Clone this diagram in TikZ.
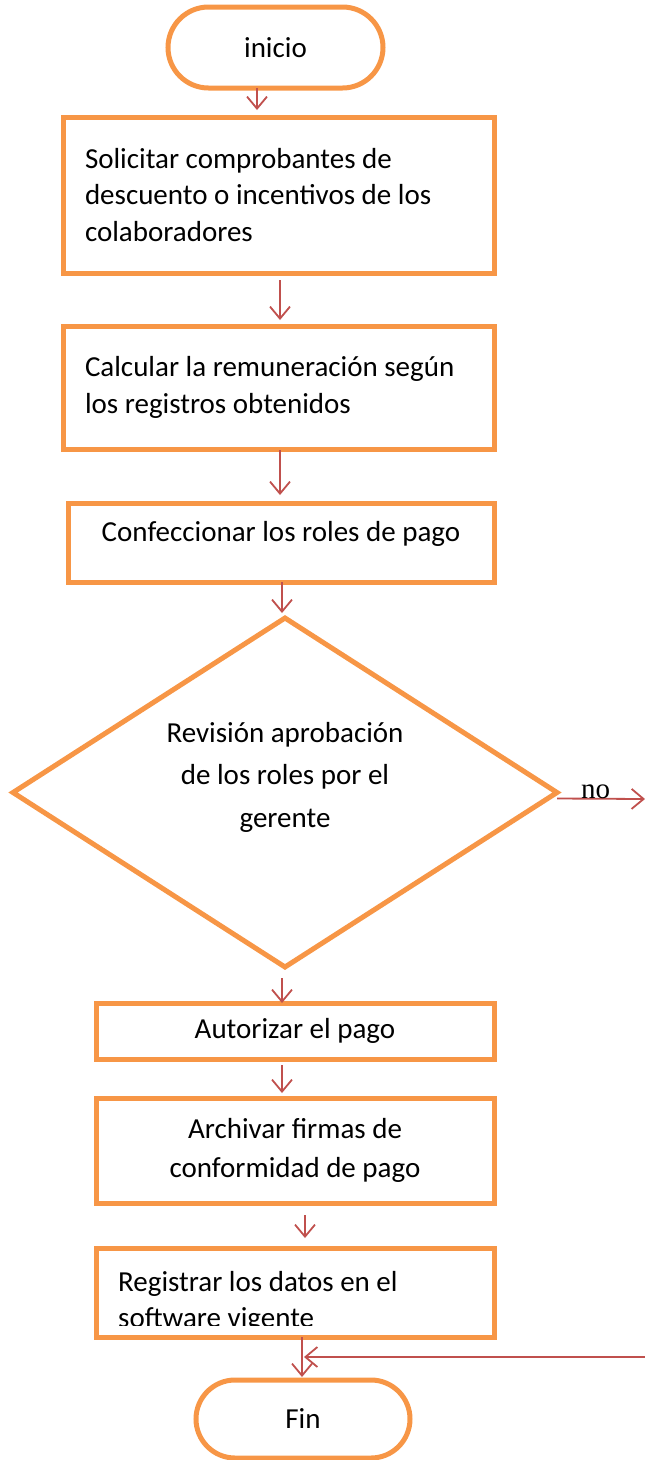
\documentclass[tikz,border=0pt]{standalone}
\usepackage{fontspec}
\setmainfont{Carlito}
\newfontfamily\serifno{Liberation Serif}
\usepackage{tikz}
\usetikzlibrary{shapes.geometric, shapes.misc, arrows.meta}
\definecolor{naranja}{HTML}{F79646}
\definecolor{rojo}{HTML}{C0504D}
\tikzset{
  caja/.style={rectangle, draw=naranja, line width=5pt, inner sep=0pt, outer sep=0pt},
  terminal/.style={rounded rectangle, draw=naranja, line width=5pt, inner sep=0pt, outer sep=0pt},
  decision/.style={diamond, draw=naranja, line width=5pt, inner sep=0pt, outer sep=0pt, aspect=1.57},
  flecha/.style={draw=rojo, line width=1.8pt, -{Straight Barb[length=12pt, width=20pt]}},
}
\begin{document}
\begin{tikzpicture}[x=1pt, y=-1pt, font=\fontsize{29}{36.5}\selectfont]
                \useasboundingbox (0, 0) rectangle (645, 1460);

                \node[terminal, minimum width=215pt, minimum height=81pt] (inicio) at (275.5, 47.5) {inicio};
                \node[caja, minimum width=431pt, minimum height=156pt, text width=387pt, align=flush left] (b1) at (278.5, 195) {Solicitar comprobantes de\\descuento o incentivos de los\\colaboradores};
                \node[caja, minimum width=431pt, minimum height=123pt, text width=387pt, align=flush left] (b2) at (278.5, 387.5) {Calcular la remuneración según\\los registros obtenidos};
                \node[caja, minimum width=426pt, minimum height=79pt, text depth=23pt] (b3) at (281, 542.5) {Confeccionar los roles de pago};
                \node[decision, minimum width=544pt, minimum height=349pt, align=center, text depth=36pt, font=\fontsize{29}{42.5}\selectfont] (dec) at (285, 792.5) {Revisión aprobación\\de los roles por el\\gerente};
                \node[caja, minimum width=398pt, minimum height=56pt] (b4) at (295, 1031) {Autorizar el pago};
                \node[caja, minimum width=398pt, minimum height=105pt, align=center, font=\fontsize{29}{39}\selectfont] (b5) at (295, 1150.5) {Archivar firmas de\\conformidad de pago};
                \node[caja, minimum width=398pt, minimum height=89pt] (b6) at (295, 1292.5) {};
                \begin{scope}
                    \clip (b6.north west) rectangle ([yshift=12pt]b6.south east);
                    \node[anchor=west, inner sep=0pt, text width=360pt, align=flush left] (t6) at (118, 1302) {Registrar los datos en el\\software vigente};
                \end{scope}
                \node[terminal, minimum width=214pt, minimum height=78pt] (fin) at (303, 1419) {Fin};

                \coordinate (noend) at (645, 799);
                \coordinate (ret) at (645, 1357);
                \coordinate (join) at (304, 1357);

                \draw[flecha, shorten >=7pt] ([xshift=-18.5pt]inicio.south) -- ([xshift=-21.5pt]b1.north);
                \draw[flecha, shorten <=7pt, shorten >=6pt] ([xshift=1.5pt]b1.south) -- ([xshift=1.5pt]b2.north);
                \draw[flecha, shorten <=1pt, shorten >=8pt] ([xshift=1.5pt]b2.south) -- ([xshift=-1pt]b3.north);
                \draw[flecha, shorten >=5pt] ([xshift=1pt]b3.south) -- ([xshift=-3pt]dec.north);
                \draw[flecha, shorten <=11pt] ([xshift=-3pt]dec.south) -- ([xshift=-13pt]b4.north);
                \draw[flecha, shorten <=6pt, shorten >=5pt] ([xshift=-13pt]b4.south) -- ([xshift=-13pt]b5.north);
                \draw[flecha, shorten <=12pt, shorten >=10pt] ([xshift=10pt]b5.south) -- ([xshift=10pt]b6.north);
                \draw[flecha, shorten >=3pt] ([xshift=7pt]b6.south) -- ([xshift=-1pt]fin.north);
                \draw[flecha] ([yshift=-6pt]dec.east) -- (noend) node[pos=0.44, anchor=base, inner sep=0pt, font=\serifno\fontsize{29}{36.5}\selectfont] {no};
                \draw[flecha] (ret) -- (join);
\end{tikzpicture}
\end{document}
